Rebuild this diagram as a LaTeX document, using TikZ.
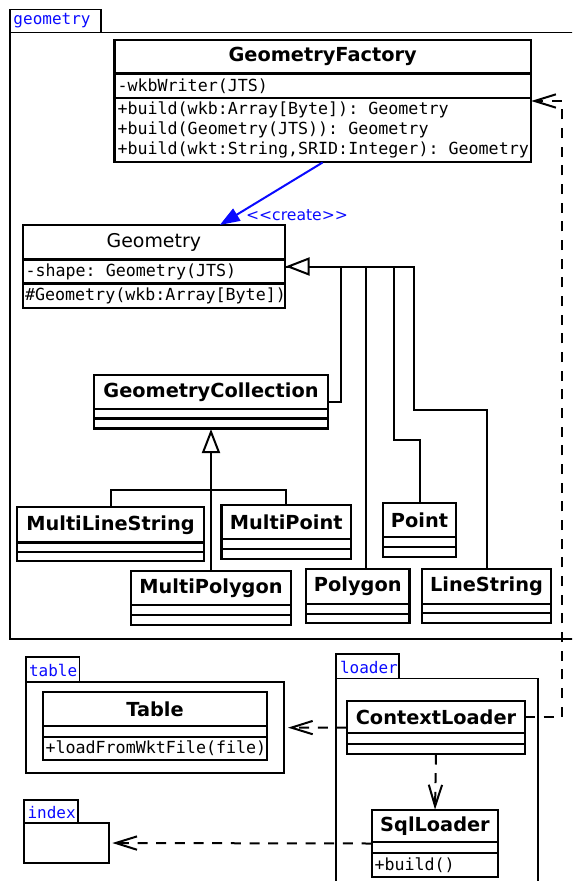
\documentclass[tikz,border=0pt]{standalone}
\usepackage{fontspec}
\setmainfont{DejaVu Sans}
\setmonofont{DejaVu Sans Mono}
\newfontfamily\stereofont{DejaVu Sans}[Ligatures=TeXOff]
\usetikzlibrary{arrows.meta,calc,fit}

\definecolor{umlblue}{RGB}{10,10,255}

\tikzset{every picture/.style={line width=0.75pt},
  umlbox/.style 2 args={draw, line width=1.6pt, anchor=north west, inner sep=0pt, outer sep=0pt,
    minimum width=#1*0.75pt, minimum height=#2*0.75pt},
  clsname/.style={font=\bfseries\fontsize{14.5}{17}\selectfont},
  member/.style={anchor=west, inner sep=0pt, align=left, font=\ttfamily\fontsize{12.5}{15}\selectfont},
  pkgframe/.style={line width=1.3pt},
  pkglabel/.style={anchor=west, inner sep=0pt, text=umlblue, font=\ttfamily\fontsize{12}{14}\selectfont},
  genline/.style={line width=1.5pt},
  genarrow/.style={line width=1.5pt, -{Triangle[length=18pt, width=13.5pt, fill=white]}},
  dep/.style={line width=1.5pt, dash pattern={on 7.5pt off 6.5pt}, -{Straight Barb[length=16pt, width=10pt]}},
  createarrow/.style={draw=umlblue, line width=1.5pt, -{Triangle[length=15pt, width=10.5pt]}},
  stereo/.style={text=umlblue, inner sep=0pt, font=\stereofont\fontsize{11.7}{14}\selectfont},
}

\begin{document}
\begin{tikzpicture}[x=0.75pt,y=0.75pt,yscale=-1,xscale=1]
\path[use as bounding box] (0,0) rectangle (572,881);
\clip (0,0) rectangle (572,881);

%Packages
\node[umlbox={570}{606.5}, pkgframe] (geompkg) at (10,32.5) {};
\node[umlbox={91}{23}, pkgframe] (geompkg-tab) at (10,9.5) {};
\node[pkglabel] (geompkg-lbl) at (13,21) {geometry};
\node[umlbox={258}{91.3}, pkgframe] (tablepkg) at (26,682) {};
\node[umlbox={53.5}{25}, pkgframe] (tablepkg-tab) at (26,657) {};
\node[pkglabel] (tablepkg-lbl) at (28.5,670) {table};
\node[umlbox={202}{220}, pkgframe] (loaderpkg) at (336,678.5) {};
\node[umlbox={63}{24.5}, pkgframe] (loaderpkg-tab) at (336,654) {};
\node[pkglabel] (loaderpkg-lbl) at (339.5,667) {loader};
\node[umlbox={85}{40}, pkgframe] (indexpkg) at (24,823) {};
\node[umlbox={54}{23}, pkgframe] (indexpkg-tab) at (24,800) {};
\node[pkglabel] (indexpkg-lbl) at (27,812.5) {index};

%Class: GeometryFactory
\node[umlbox={416.2}{33.5}, clsname] (gfactory-name) at (114.5,40) {GeometryFactory};
\node[umlbox={416.2}{24.5}] (gfactory-attr) at (114.5,73.5) {};
\node[umlbox={416.2}{64}] (gfactory-ops) at (114.5,98) {};
\node[fit=(gfactory-name)(gfactory-ops), inner sep=0pt] (gfactory) {};
% Text Node
\node[member] (gfactory-a1) at (117,86) {-wkbWriter(JTS)};
% Text Node
\node[member] (gfactory-o1) at (117,130) {+build(wkb:Array[Byte]): Geometry\\+build(Geometry(JTS)): Geometry\\+build(wkt:String,SRID:Integer): Geometry};

%Class: Geometry
\node[umlbox={262.4}{34.5}, font=\fontsize{14.2}{17}\selectfont] (geometry-name) at (22.6,225) {Geometry};
\node[umlbox={262.4}{24}] (geometry-attr) at (22.6,259.5) {};
\node[umlbox={262.4}{24.5}] (geometry-ops) at (22.6,283.5) {};
\node[fit=(geometry-name)(geometry-ops), inner sep=0pt] (geometry) {};
% Text Node
\node[member] (geometry-a1) at (25,271.5) {-shape: Geometry(JTS)};
% Text Node
\node[member] (geometry-o1) at (24.5,296) {\#Geometry(wkb:Array[Byte])};

%Class: GeometryCollection
\node[umlbox={234}{34}, clsname] (gcoll-name) at (94,375) {GeometryCollection};
\node[umlbox={234}{9.5}] (gcoll-attr) at (94,409) {};
\node[umlbox={234}{10}] (gcoll-ops) at (94,418.5) {};
\node[fit=(gcoll-name)(gcoll-ops), inner sep=0pt] (gcoll) {};

%Class: MultiLineString
\node[umlbox={187}{35.5}, clsname] (mlstring-name) at (17,507) {MultiLineString};
\node[umlbox={187}{9.5}] (mlstring-attr) at (17,542.5) {};
\node[umlbox={187}{9}] (mlstring-ops) at (17,552) {};
\node[fit=(mlstring-name)(mlstring-ops), inner sep=0pt] (mlstring) {};

%Class: MultiPoint
\node[umlbox={129.5}{34.3}, clsname] (mpoint-name) at (221.5,505) {MultiPoint};
\node[umlbox={129.5}{10}] (mpoint-attr) at (221.5,539.3) {};
\node[umlbox={129.5}{10}] (mpoint-ops) at (221.5,549.3) {};
\node[fit=(mpoint-name)(mpoint-ops), inner sep=0pt] (mpoint) {};

%Class: Point
\node[umlbox={73}{34.6}, clsname] (point-name) at (383,502.7) {Point};
\node[umlbox={73}{10}] (point-attr) at (383,537.3) {};
\node[umlbox={73}{9.4}] (point-ops) at (383,547.3) {};
\node[fit=(point-name)(point-ops), inner sep=0pt] (point) {};

%Class: MultiPolygon
\node[umlbox={160}{33.7}, clsname] (mpoly-name) at (131,571.3) {MultiPolygon};
\node[umlbox={160}{10}] (mpoly-attr) at (131,605) {};
\node[umlbox={160}{10}] (mpoly-ops) at (131,615) {};
\node[fit=(mpoly-name)(mpoly-ops), inner sep=0pt] (mpoly) {};

%Class: Polygon
\node[umlbox={103.5}{34.7}, clsname] (polygon-name) at (306,569.3) {Polygon};
\node[umlbox={103.5}{10}] (polygon-attr) at (306,604) {};
\node[umlbox={103.5}{9.3}] (polygon-ops) at (306,614) {};
\node[fit=(polygon-name)(polygon-ops), inner sep=0pt] (polygon) {};

%Class: LineString
\node[umlbox={129}{34.7}, clsname] (lstring-name) at (422,569.3) {LineString};
\node[umlbox={129}{9}] (lstring-attr) at (422,604) {};
\node[umlbox={129}{10}] (lstring-ops) at (422,613) {};
\node[fit=(lstring-name)(lstring-ops), inner sep=0pt] (lstring) {};

%Class: Table
\node[umlbox={224}{33.7}, clsname] (table-name) at (43,692.3) {Table};
\node[umlbox={224}{10.7}] (table-attr) at (43,726) {};
\node[umlbox={224}{23.3}] (table-ops) at (43,736.7) {};
\node[fit=(table-name)(table-ops), inner sep=0pt] (table) {};
% Text Node
\node[member] (table-o1) at (45,748.3) {+loadFromWktFile(file)};

%Class: ContextLoader
\node[umlbox={178}{32}, clsname] (ctxloader-name) at (347,701) {ContextLoader};
\node[umlbox={178}{11}] (ctxloader-attr) at (347,733) {};
\node[umlbox={178}{10}] (ctxloader-ops) at (347,744) {};
\node[fit=(ctxloader-name)(ctxloader-ops), inner sep=0pt] (ctxloader) {};

%Class: SqlLoader
\node[umlbox={126}{32}, clsname] (sqlloader-name) at (372,810) {SqlLoader};
\node[umlbox={126}{11}] (sqlloader-attr) at (372,842) {};
\node[umlbox={126}{24}] (sqlloader-ops) at (372,853) {};
\node[fit=(sqlloader-name)(sqlloader-ops), inner sep=0pt] (sqlloader) {};
% Text Node
\node[member] (sqlloader-o1) at (374,865) {+build()};

%Create dependency
\draw[createarrow] (gfactory.south) -- ($(geometry-name.north)+(66,0)$);
% Text Node
\node[stereo] (create-lbl) at (297,215) {<<create>>};

%Generalisation to Geometry
\draw[genline] (gcoll.east) -- ++(12,0) |- (geometry.east);
\draw[genline] ($(polygon.north)+(8.5,0)$) |- (geometry.east);
\draw[genline] (point.north) -- ++(0,-62.7) -- ++(-26,0) |- (geometry.east);
\draw[genline] (lstring.north) -- ++(0,-159.3) -- ++(-72.5,0) |- (geometry.east);
\draw[genarrow] ($(geometry.east)+(25,0)$) -- (geometry.east);

%Generalisation to GeometryCollection
\draw[genline] (mlstring.north) -- ++(0,-17) -| (mpoint.north);
\draw[genarrow] (mpoly.north) -- (gcoll.south);

%Usage dependencies
\draw[dep] (ctxloader-name.east) -- ++(37,0) |- (gfactory.east);
\draw[dep, shorten >=3pt] (ctxloader.west) -- (tablepkg.east);
\draw[dep] (ctxloader.south) -- (sqlloader.north);
\draw[dep, shorten >=2.5pt] (sqlloader.west) -- (indexpkg.east);

\end{tikzpicture}
\end{document}
